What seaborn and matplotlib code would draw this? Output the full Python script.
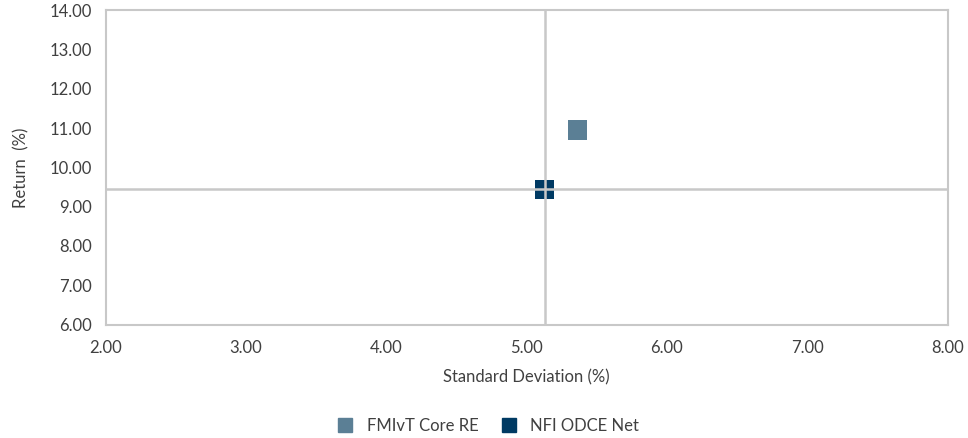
import pandas as pd
import matplotlib.pyplot as plt
import seaborn as sns

series = ['FMIvT Core RE', 'NFI ODCE Net']
std_dev = [5.36, 5.13]
returns = [10.95, 9.44]
colors = ['#5B7F95', '#003A63']

df = pd.DataFrame({'Series': series, 'Std': std_dev, 'Return': returns})

sns.set_style('white')
plt.rcParams['font.family'] = ['Lato', 'DejaVu Sans']

fig, ax = plt.subplots(figsize=(9.68, 4.38), dpi=100)
fig.subplots_adjust(left=0.109, right=0.979, top=0.977, bottom=0.259)

sns.scatterplot(data=df, x='Std', y='Return', hue='Series', palette=colors,
                marker='s', s=190, edgecolor='none', ax=ax, zorder=2, legend=False)

# benchmark crosshair
ax.axvline(std_dev[1], color='#C8C8C8', lw=1.8, zorder=3)
ax.axhline(returns[1], color='#C8C8C8', lw=1.8, zorder=3)

ax.set_xlim(2, 8)
ax.set_ylim(6, 14)
ax.set_xticks([2, 3, 4, 5, 6, 7, 8])
ax.set_yticks([6, 7, 8, 9, 10, 11, 12, 13, 14])
ax.xaxis.set_major_formatter(plt.FuncFormatter(lambda v, p: f'{v:.2f}'))
ax.yaxis.set_major_formatter(plt.FuncFormatter(lambda v, p: f'{v:.2f}'))
ax.tick_params(axis='both', labelsize=12, colors='#404040', length=0)
ax.tick_params(axis='x', pad=11)
ax.tick_params(axis='y', pad=10)
for sp in ax.spines.values():
    sp.set_color('#C8C8C8')
    sp.set_linewidth(1.5)

ax.set_xlabel('Standard Deviation (%)', fontsize=12, color='#404040', labelpad=10)
ax.set_ylabel('Return  (%)', fontsize=12, color='#404040', labelpad=14)

handles = [plt.Line2D([], [], marker='s', ls='none', color=c, markersize=10) for c in colors]
fig.legend(handles, series, loc='lower center', ncol=2, frameon=False,
           bbox_to_anchor=(0.5, -0.025), fontsize=12, handletextpad=0.3,
           columnspacing=0.8, labelcolor='#404040')

fig.savefig('out.png', dpi=100)
